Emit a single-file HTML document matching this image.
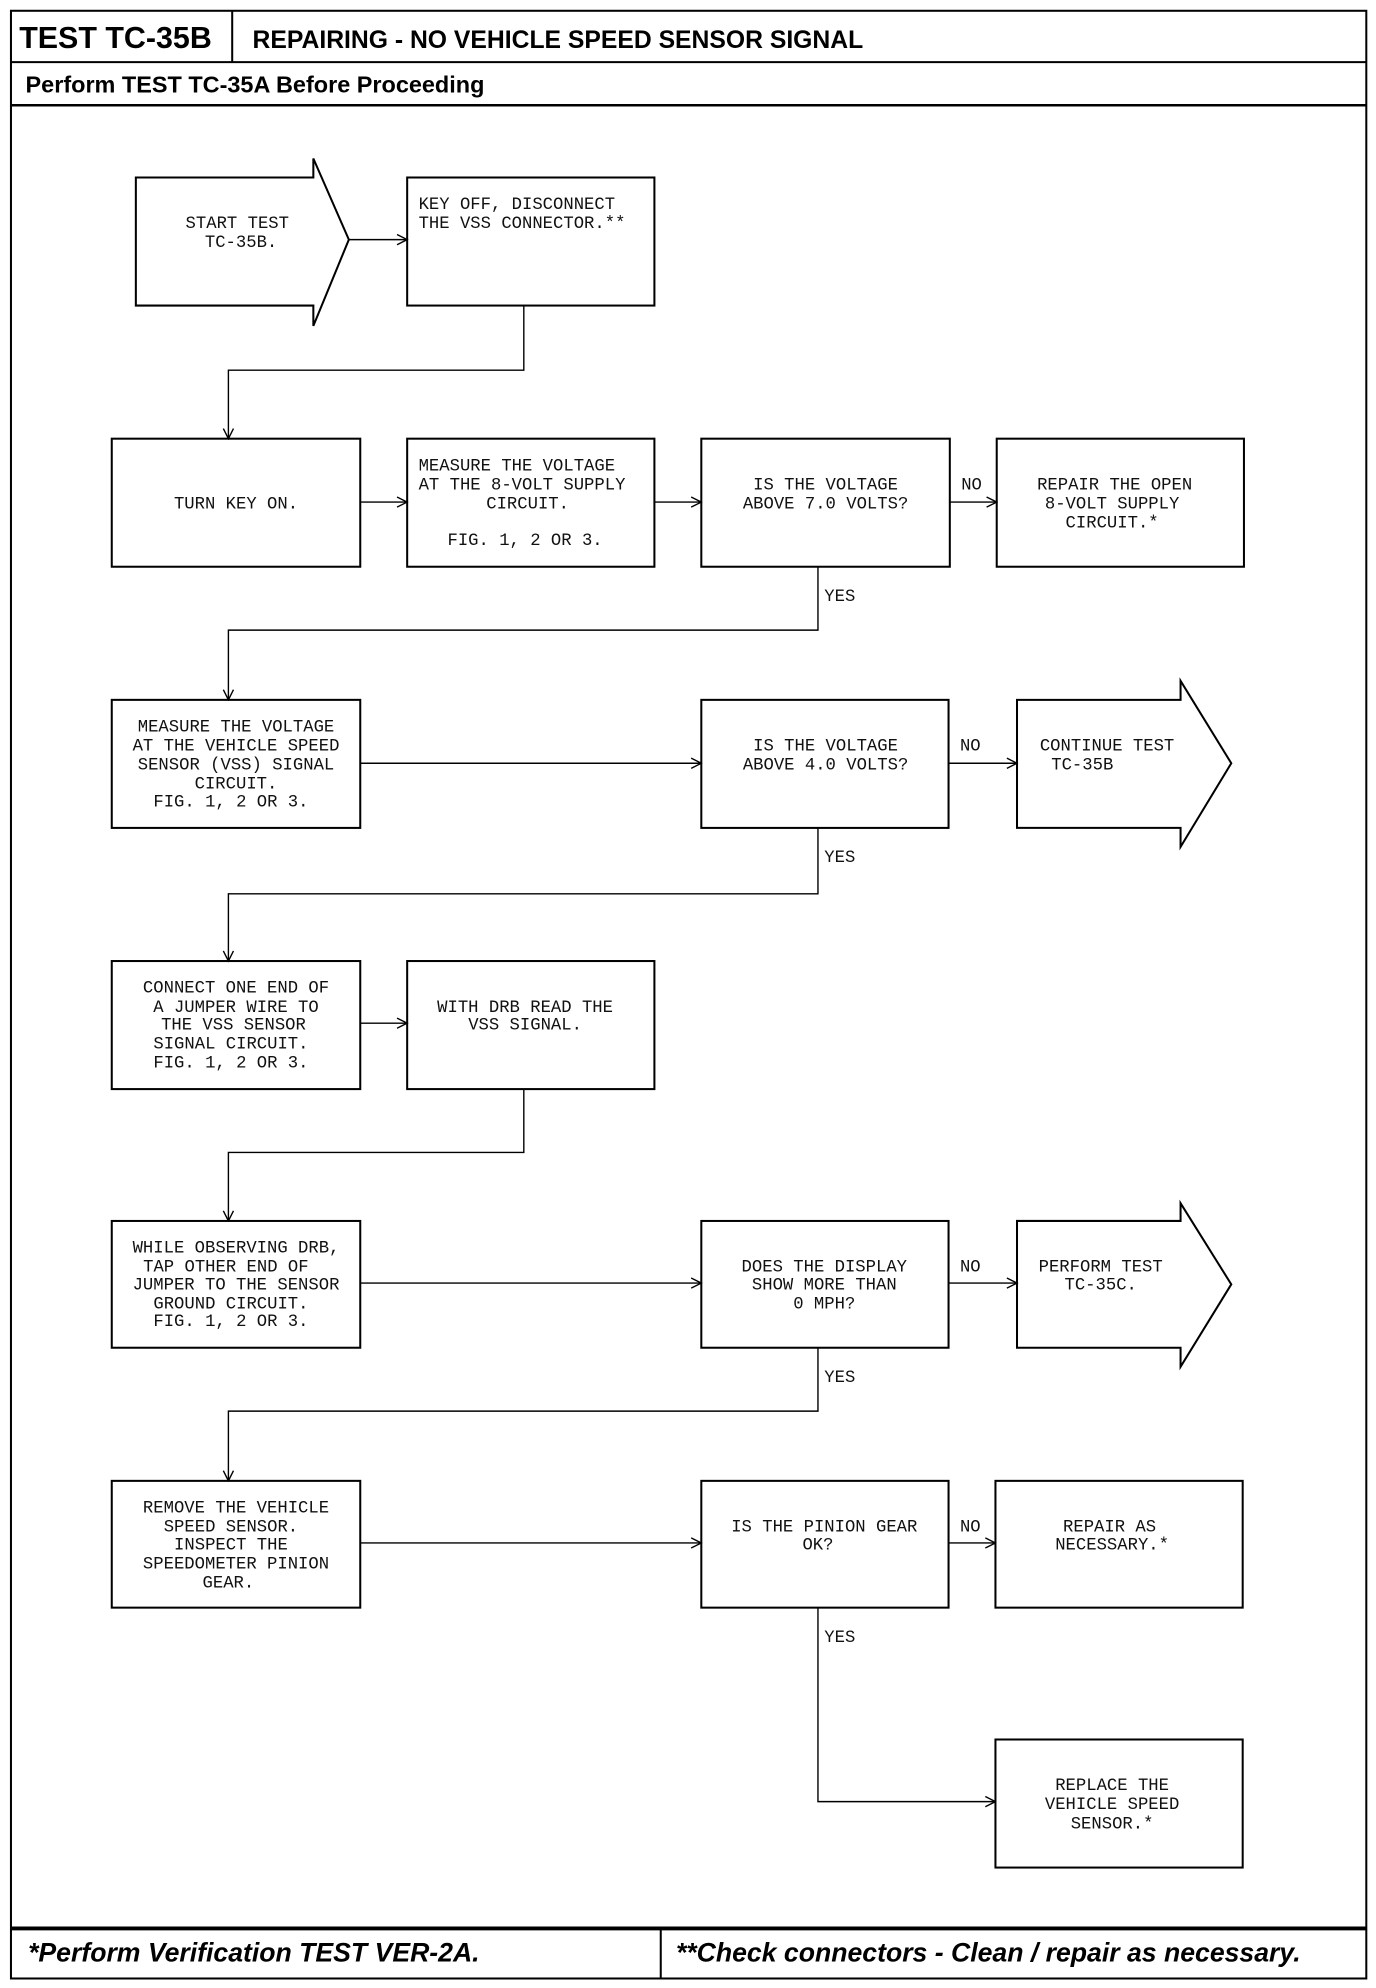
<!DOCTYPE html>
<html><head><meta charset="utf-8"><style>
html,body{margin:0;padding:0;background:#fff}
svg{display:block}
.m{font-family:"Liberation Mono",monospace;font-size:13.6px;fill:#111}
.b{fill:none;stroke:#000;stroke-width:1.6}
.l{fill:none;stroke:#000;stroke-width:1.1}
.h{font-family:"Liberation Sans",sans-serif;font-weight:bold;fill:#000}
</style></head><body>
<svg width="1376" height="1988" viewBox="0 0 1085 1568" xmlns="http://www.w3.org/2000/svg">
<defs><marker id="a" markerWidth="10" markerHeight="10" refX="9" refY="5" orient="auto" markerUnits="userSpaceOnUse"><path d="M1,1 L9,5 L1,9" fill="none" stroke="#000" stroke-width="1.1"/></marker></defs>
<!-- frame -->
<rect x="8.5" y="8.5" width="1069" height="1552" class="b" stroke-width="2"/>
<line x1="8" y1="49" x2="1078" y2="49" stroke="#000" stroke-width="1.6"/>
<line x1="183" y1="8" x2="183" y2="49" stroke="#000" stroke-width="1.6"/>
<line x1="8" y1="83" x2="1078" y2="83" stroke="#000" stroke-width="2"/>
<line x1="8" y1="1521" x2="1078" y2="1521" stroke="#000" stroke-width="3"/>
<line x1="521" y1="1521" x2="521" y2="1560" stroke="#000" stroke-width="1.6"/>
<text x="15" y="38" class="h" font-size="24">TEST TC-35B</text>
<text x="199" y="38" class="h" font-size="19.5">REPAIRING - NO VEHICLE SPEED SENSOR SIGNAL</text>
<text x="20" y="73" class="h" font-size="18.5">Perform TEST TC-35A Before Proceeding</text>
<text x="22" y="1547" class="h" font-size="21" font-style="italic">*Perform Verification TEST VER-2A.</text>
<text x="533" y="1547" class="h" font-size="21" font-style="italic">**Check connectors - Clean / repair as necessary.</text>

<!-- row1 -->
<path d="M107,140 H247 V125 L275,189 L247,257 V241 H107 Z" class="b"/>
<text class="m" text-anchor="middle" x="187" y="180">START TEST</text>
<text class="m" text-anchor="middle" x="190" y="195">TC-35B.</text>
<rect x="321" y="140" width="195" height="101" class="b"/>
<text class="m" x="330" y="165">KEY OFF, DISCONNECT</text>
<text class="m" x="330" y="180">THE VSS CONNECTOR.**</text>
<line x1="275" y1="189" x2="321" y2="189" class="l" marker-end="url(#a)"/>
<polyline points="413,241 413,292 180,292 180,346" class="l" marker-end="url(#a)"/>

<!-- row2 -->
<rect x="88" y="346" width="196" height="101" class="b"/>
<text class="m" text-anchor="middle" x="186" y="401">TURN KEY ON.</text>
<rect x="321" y="346" width="195" height="101" class="b"/>
<text class="m" x="330" y="371">MEASURE THE VOLTAGE</text>
<text class="m" x="330" y="386">AT THE 8-VOLT SUPPLY</text>
<text class="m" text-anchor="middle" x="416" y="401">CIRCUIT.</text>
<text class="m" text-anchor="middle" x="414" y="430">FIG. 1, 2 OR 3.</text>
<rect x="553" y="346" width="196" height="101" class="b"/>
<text class="m" text-anchor="middle" x="651" y="386">IS THE VOLTAGE</text>
<text class="m" text-anchor="middle" x="651" y="401">ABOVE 7.0 VOLTS?</text>
<rect x="786" y="346" width="195" height="101" class="b"/>
<text class="m" text-anchor="middle" x="879" y="386">REPAIR THE OPEN</text>
<text class="m" text-anchor="middle" x="877" y="401">8-VOLT SUPPLY</text>
<text class="m" text-anchor="middle" x="877" y="416">CIRCUIT.*</text>
<line x1="284" y1="396" x2="321" y2="396" class="l" marker-end="url(#a)"/>
<line x1="516" y1="396" x2="553" y2="396" class="l" marker-end="url(#a)"/>
<line x1="749" y1="396" x2="786" y2="396" class="l" marker-end="url(#a)"/>
<text class="m" x="758" y="386">NO</text>
<polyline points="645,447 645,497 180,497 180,552" class="l" marker-end="url(#a)"/>
<text class="m" x="650" y="474">YES</text>

<!-- row3 -->
<rect x="88" y="552" width="196" height="101" class="b"/>
<text class="m" text-anchor="middle" x="186" y="577">MEASURE THE VOLTAGE</text>
<text class="m" text-anchor="middle" x="186" y="592">AT THE VEHICLE SPEED</text>
<text class="m" text-anchor="middle" x="186" y="607">SENSOR (VSS) SIGNAL</text>
<text class="m" text-anchor="middle" x="186" y="622">CIRCUIT.</text>
<text class="m" text-anchor="middle" x="182" y="636">FIG. 1, 2 OR 3.</text>
<rect x="553" y="552" width="195" height="101" class="b"/>
<text class="m" text-anchor="middle" x="651" y="592">IS THE VOLTAGE</text>
<text class="m" text-anchor="middle" x="651" y="607">ABOVE 4.0 VOLTS?</text>
<path d="M802,552 H931 V537 L971,602 L931,668 V653 H802 Z" class="b"/>
<text class="m" x="820" y="592">CONTINUE TEST</text>
<text class="m" x="829" y="607">TC-35B</text>
<line x1="284" y1="602" x2="553" y2="602" class="l" marker-end="url(#a)"/>
<line x1="748" y1="602" x2="802" y2="602" class="l" marker-end="url(#a)"/>
<text class="m" x="757" y="592">NO</text>
<polyline points="645,653 645,705 180,705 180,758" class="l" marker-end="url(#a)"/>
<text class="m" x="650" y="680">YES</text>

<!-- row4 -->
<rect x="88" y="758" width="196" height="101" class="b"/>
<text class="m" text-anchor="middle" x="186" y="783">CONNECT ONE END OF</text>
<text class="m" text-anchor="middle" x="186" y="798">A JUMPER WIRE TO</text>
<text class="m" text-anchor="middle" x="184" y="812">THE VSS SENSOR</text>
<text class="m" text-anchor="middle" x="182" y="827">SIGNAL CIRCUIT.</text>
<text class="m" text-anchor="middle" x="182" y="842">FIG. 1, 2 OR 3.</text>
<rect x="321" y="758" width="195" height="101" class="b"/>
<text class="m" text-anchor="middle" x="414" y="798">WITH DRB READ THE</text>
<text class="m" text-anchor="middle" x="414" y="812">VSS SIGNAL.</text>
<line x1="284" y1="807" x2="321" y2="807" class="l" marker-end="url(#a)"/>
<polyline points="413,859 413,909 180,909 180,963" class="l" marker-end="url(#a)"/>

<!-- row5 -->
<rect x="88" y="963" width="196" height="100" class="b"/>
<text class="m" text-anchor="middle" x="186" y="988">WHILE OBSERVING DRB,</text>
<text class="m" text-anchor="middle" x="178" y="1003">TAP OTHER END OF</text>
<text class="m" text-anchor="middle" x="186" y="1017">JUMPER TO THE SENSOR</text>
<text class="m" text-anchor="middle" x="182" y="1032">GROUND CIRCUIT.</text>
<text class="m" text-anchor="middle" x="182" y="1046">FIG. 1, 2 OR 3.</text>
<rect x="553" y="963" width="195" height="100" class="b"/>
<text class="m" text-anchor="middle" x="650" y="1003">DOES THE DISPLAY</text>
<text class="m" text-anchor="middle" x="650" y="1017">SHOW MORE THAN</text>
<text class="m" text-anchor="middle" x="650" y="1032">0 MPH?</text>
<path d="M802,963 H931 V949 L971,1013 L931,1078 V1063 H802 Z" class="b"/>
<text class="m" text-anchor="middle" x="868" y="1003">PERFORM TEST</text>
<text class="m" text-anchor="middle" x="868" y="1017">TC-35C.</text>
<line x1="284" y1="1012" x2="553" y2="1012" class="l" marker-end="url(#a)"/>
<line x1="748" y1="1012" x2="802" y2="1012" class="l" marker-end="url(#a)"/>
<text class="m" x="757" y="1003">NO</text>
<polyline points="645,1063 645,1113 180,1113 180,1168" class="l" marker-end="url(#a)"/>
<text class="m" x="650" y="1090">YES</text>

<!-- row6 -->
<rect x="88" y="1168" width="196" height="100" class="b"/>
<text class="m" text-anchor="middle" x="186" y="1193">REMOVE THE VEHICLE</text>
<text class="m" text-anchor="middle" x="182" y="1208">SPEED SENSOR.</text>
<text class="m" text-anchor="middle" x="182" y="1222">INSPECT THE</text>
<text class="m" text-anchor="middle" x="186" y="1237">SPEEDOMETER PINION</text>
<text class="m" text-anchor="middle" x="180" y="1252">GEAR.</text>
<rect x="553" y="1168" width="195" height="100" class="b"/>
<text class="m" text-anchor="middle" x="650" y="1208">IS THE PINION GEAR</text>
<text class="m" text-anchor="middle" x="645" y="1222">OK?</text>
<rect x="785" y="1168" width="195" height="100" class="b"/>
<text class="m" text-anchor="middle" x="875" y="1208">REPAIR AS</text>
<text class="m" text-anchor="middle" x="877" y="1222">NECESSARY.*</text>
<line x1="284" y1="1217" x2="553" y2="1217" class="l" marker-end="url(#a)"/>
<line x1="748" y1="1217" x2="785" y2="1217" class="l" marker-end="url(#a)"/>
<text class="m" x="757" y="1208">NO</text>
<polyline points="645,1268 645,1421 785,1421" class="l" marker-end="url(#a)"/>
<text class="m" x="650" y="1295">YES</text>

<!-- row7 -->
<rect x="785" y="1372" width="195" height="101" class="b"/>
<text class="m" text-anchor="middle" x="877" y="1412">REPLACE THE</text>
<text class="m" text-anchor="middle" x="877" y="1427">VEHICLE SPEED</text>
<text class="m" text-anchor="middle" x="877" y="1442">SENSOR.*</text>
</svg>
</body></html>
